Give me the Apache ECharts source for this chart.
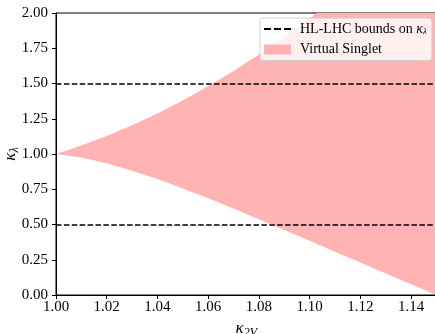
<!DOCTYPE html>
<html>
<head>
<meta charset="utf-8">
<script src="https://cdn.jsdelivr.net/npm/echarts@6/dist/echarts.min.js"></script>
<style>html,body{margin:0;padding:0;background:#fff;}#c{width:435px;height:334px;}</style>
</head>
<body>
<div id="c"></div>
<script>
// kappa_2V sample points
const k2v = [1.00, 1.01, 1.02, 1.03, 1.04, 1.05, 1.06, 1.07, 1.08, 1.09, 1.10, 1.103, 1.11, 1.12, 1.13, 1.14, 1.15];
// lower and upper edge of the Virtual Singlet band (upper shown up to top of frame)
const lowerEdge = [1.000, 0.975, 0.934, 0.882, 0.822, 0.756, 0.686, 0.613, 0.537, 0.461, 0.384, 0.362, 0.307, 0.230, 0.153, 0.077, 0.000];
const upperEdge = [1.000, 1.060, 1.128, 1.204, 1.288, 1.380, 1.481, 1.589, 1.705, 1.830, 1.962, 2.000, 2.000, 2.000, 2.000, 2.000, 2.000];
// HL-LHC bounds on kappa_lambda
const hlBounds = [0.5, 1.5];
const xRange = [1.00, 1.15];
const yRange = [0, 2];
const xTickStep = 0.02;
const yTickStep = 0.25;

const FONT = 'Liberation Serif';
const PINK = '#ffb3b3';
const chart = echarts.init(document.getElementById('c'), null, {renderer: 'canvas'});

const bandData = k2v.map((x, i) => [x, lowerEdge[i], upperEdge[i]]);

chart.setOption({
  animation: false,
  backgroundColor: '#fff',
  textStyle: {fontFamily: FONT},
  grid: {left: 56, top: 13, right: -1.5, bottom: 39, outerBoundsMode: 'none', containLabel: false,
    show: true, borderColor: '#000', borderWidth: 1, backgroundColor: 'transparent'},
  legend: {
    left: 260, top: 18,
    orient: 'vertical',
    backgroundColor: 'rgba(255,255,255,0.8)',
    borderColor: '#d0d0d0', borderWidth: 1, borderRadius: 3,
    padding: [4, 5, 4, 4],
    itemWidth: 27, itemHeight: 10, itemGap: 6,
    textStyle: {fontFamily: FONT, fontSize: 14, color: '#000', padding: [0, 0, 0, 4],
      rich: {
        k: {fontFamily: FONT, fontSize: 14, fontStyle: 'italic', color: '#000'},
        s: {fontFamily: FONT, fontSize: 9, fontStyle: 'italic', color: '#000', padding: [6, 0, 0, 0]}
      }},
    formatter: function (name) {
      if (name.indexOf('HL-LHC') === 0) return 'HL-LHC bounds on {k|κ}{s|λ}';
      return name;
    },
    data: [
      {name: 'HL-LHC bounds on kl', icon: 'path://M0,4h7v2h-7zM10,4h7v2h-7zM20,4h7v2h-7z', itemStyle: {color: '#000'}},
      {name: 'Virtual Singlet', icon: 'rect', itemStyle: {color: PINK}}
    ]
  },
  xAxis: {
    type: 'value', min: xRange[0], max: xRange[1], interval: xTickStep,
    name: '{k|κ}{s|2V}', nameLocation: 'middle', nameGap: 23, nameMoveOverlap: false,
    nameTextStyle: {rich: {
      k: {fontFamily: FONT, fontSize: 17, fontStyle: 'italic', color: '#000'},
      s: {fontFamily: FONT, fontSize: 12, fontStyle: 'italic', color: '#000', padding: [9, 0, 0, 0]}
    }},
    axisLine: {lineStyle: {color: '#000', width: 1}},
    axisTick: {inside: false, length: 4, lineStyle: {color: '#000'}},
    axisLabel: {color: '#000', fontFamily: FONT, fontSize: 15, margin: 5, showMaxLabel: false,
      formatter: v => v.toFixed(2)},
    splitLine: {show: false}
  },
  yAxis: {
    type: 'value', min: yRange[0], max: yRange[1], interval: yTickStep,
    name: '{k|κ}{s|λ}', nameLocation: 'middle', nameGap: 35, nameRotate: 90, nameMoveOverlap: false,
    nameTextStyle: {rich: {
      k: {fontFamily: FONT, fontSize: 17, fontStyle: 'italic', color: '#000'},
      s: {fontFamily: FONT, fontSize: 12, fontStyle: 'italic', color: '#000', padding: [9, 0, 0, 0]}
    }},
    axisLine: {show: true, lineStyle: {color: '#000', width: 1}},
    axisTick: {show: true, inside: false, length: 4, lineStyle: {color: '#000'}},
    axisLabel: {color: '#000', fontFamily: FONT, fontSize: 15, margin: 8,
      formatter: v => v.toFixed(2)},
    splitLine: {show: false}
  },
  series: [
    {
      name: 'Virtual Singlet', type: 'custom', data: [0], color: PINK,
      itemStyle: {color: PINK},
      encode: {x: -1, y: -1},
      clip: true,
      renderItem: function (params, api) {
        const pts = [];
        for (let i = 0; i < bandData.length; i++) pts.push(api.coord([bandData[i][0], bandData[i][2]]));
        for (let i = bandData.length - 1; i >= 0; i--) pts.push(api.coord([bandData[i][0], bandData[i][1]]));
        return {type: 'polygon', shape: {points: pts}, style: {fill: PINK, stroke: null}, silent: true};
      },
      z: 1
    },
    {
      name: 'HL-LHC bounds on kl', type: 'line', data: [], symbol: 'none',
      color: '#000', itemStyle: {color: '#000'},
      lineStyle: {color: '#000', type: [5.5, 2.4], width: 1.5},
      markLine: {
        silent: true, symbol: ['none', 'none'], label: {show: false},
        lineStyle: {color: '#000', type: [5.5, 2.4], width: 1.5},
        data: hlBounds.map(v => ({yAxis: v}))
      }, z: 3
    }
  ]
});
</script>
</body>
</html>
